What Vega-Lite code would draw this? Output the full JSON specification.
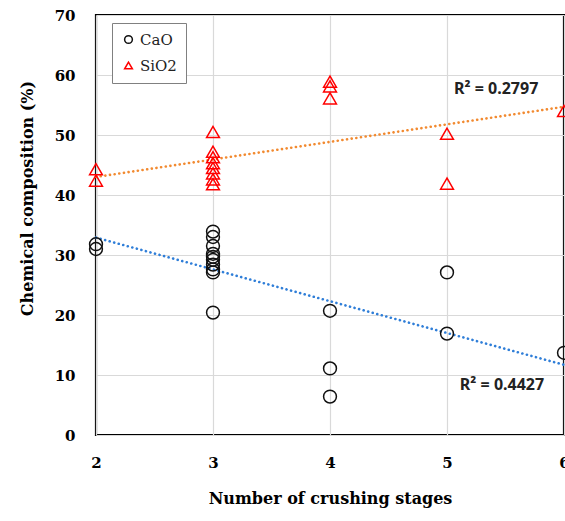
{
  "$schema": "https://vega.github.io/schema/vega-lite/v6.json",
  "width": 468,
  "height": 420,
  "autosize": {"type": "none"},
  "padding": {"left": 96, "top": 15, "right": 1, "bottom": 86},
  "background": "white",
  "config": {
    "view": {"stroke": "black", "strokeWidth": 2.2},
    "axis": {
      "labelFont": "DejaVu Serif", "labelFontWeight": "bold", "labelFontSize": 15, "labelColor": "black",
      "titleFont": "DejaVu Serif", "titleFontWeight": "bold", "titleFontSize": 16, "titleColor": "black",
      "gridColor": "#d9d9d9", "gridWidth": 1.2, "ticks": false, "domain": false,
      "labelFlush": false, "labelBound": false, "labelOverlap": false
    },
    "legend": {
      "orient": "none", "legendX": 16, "legendY": 8,
      "strokeColor": "#808080", "fillColor": "white", "padding": 9,
      "labelFont": "DejaVu Serif", "labelFontSize": 15, "labelColor": "#222",
      "symbolSize": 60, "symbolStrokeWidth": 1.5, "rowPadding": 10, "symbolFillColor": "transparent"
    }
  },
  "datasets": {
    "pts": [
      {"stage": 2, "series": "CaO", "value": 31.8},
      {"stage": 2, "series": "CaO", "value": 31.0},
      {"stage": 3, "series": "CaO", "value": 33.9},
      {"stage": 3, "series": "CaO", "value": 33.0},
      {"stage": 3, "series": "CaO", "value": 31.5},
      {"stage": 3, "series": "CaO", "value": 30.2},
      {"stage": 3, "series": "CaO", "value": 29.7},
      {"stage": 3, "series": "CaO", "value": 29.2},
      {"stage": 3, "series": "CaO", "value": 28.4},
      {"stage": 3, "series": "CaO", "value": 27.6},
      {"stage": 3, "series": "CaO", "value": 27.1},
      {"stage": 3, "series": "CaO", "value": 20.4},
      {"stage": 4, "series": "CaO", "value": 20.7},
      {"stage": 4, "series": "CaO", "value": 11.1},
      {"stage": 4, "series": "CaO", "value": 6.4},
      {"stage": 5, "series": "CaO", "value": 27.1},
      {"stage": 5, "series": "CaO", "value": 16.9},
      {"stage": 6, "series": "CaO", "value": 13.7},
      {"stage": 2, "series": "SiO2", "value": 44.3},
      {"stage": 2, "series": "SiO2", "value": 42.4},
      {"stage": 3, "series": "SiO2", "value": 50.5},
      {"stage": 3, "series": "SiO2", "value": 47.2},
      {"stage": 3, "series": "SiO2", "value": 46.3},
      {"stage": 3, "series": "SiO2", "value": 45.3},
      {"stage": 3, "series": "SiO2", "value": 44.5},
      {"stage": 3, "series": "SiO2", "value": 43.6},
      {"stage": 3, "series": "SiO2", "value": 42.6},
      {"stage": 3, "series": "SiO2", "value": 41.8},
      {"stage": 4, "series": "SiO2", "value": 58.9},
      {"stage": 4, "series": "SiO2", "value": 58.1},
      {"stage": 4, "series": "SiO2", "value": 56.1},
      {"stage": 5, "series": "SiO2", "value": 50.2},
      {"stage": 5, "series": "SiO2", "value": 41.9},
      {"stage": 6, "series": "SiO2", "value": 54.0}
    ],
    "trendCaO": [
      {"stage": 2, "value": 32.9},
      {"stage": 6, "value": 11.7}
    ],
    "trendSiO2": [
      {"stage": 2, "value": 43.0},
      {"stage": 6, "value": 54.7}
    ],
    "labels": [
      {"stage": 5.42, "value": 57.6, "text": "R² = 0.2797"},
      {"stage": 5.47, "value": 8.3, "text": "R² = 0.4427"}
    ]
  },
  "encoding": {
    "x": {
      "field": "stage", "type": "quantitative",
      "scale": {"domain": [2, 6], "nice": false, "zero": false},
      "axis": {"values": [2, 3, 4, 5, 6], "format": "d", "title": "Number of crushing stages", "labelPadding": 20, "titlePadding": 20}
    },
    "y": {
      "field": "value", "type": "quantitative",
      "scale": {"domain": [0, 70], "nice": false},
      "axis": {"values": [0, 10, 20, 30, 40, 50, 60, 70], "title": "Chemical composition (%)", "labelPadding": 21,
               "titleX": -69, "titleY": 183, "titleAngle": -90, "titleAlign": "center", "titleBaseline": "middle"}
    }
  },
  "layer": [
    {
      "data": {"name": "trendSiO2"},
      "mark": {"type": "line", "color": "#f28a30", "strokeWidth": 2.6, "strokeDash": [0.1, 4.6], "strokeCap": "round"},
      "encoding": {}
    },
    {
      "data": {"name": "trendCaO"},
      "mark": {"type": "line", "color": "#2f7ed8", "strokeWidth": 2.6, "strokeDash": [0.1, 4.6], "strokeCap": "round"},
      "encoding": {}
    },
    {
      "data": {"name": "pts"},
      "mark": {"type": "point", "filled": false, "strokeWidth": 1.5, "size": 165, "opacity": 1},
      "encoding": {
        "shape": {"field": "series", "type": "nominal", "scale": {"domain": ["CaO", "SiO2"], "range": ["circle", "triangle-up"]}, "legend": {"title": null}},
        "stroke": {"field": "series", "type": "nominal", "scale": {"domain": ["CaO", "SiO2"], "range": ["#111111", "#ff0000"]}, "legend": {"title": null}}
      }
    },
    {
      "data": {"name": "labels"},
      "mark": {"type": "text", "font": "Noto Sans", "fontWeight": "bold", "fontSize": 16, "color": "#222"},
      "encoding": {"text": {"field": "text"}}
    }
  ]
}
